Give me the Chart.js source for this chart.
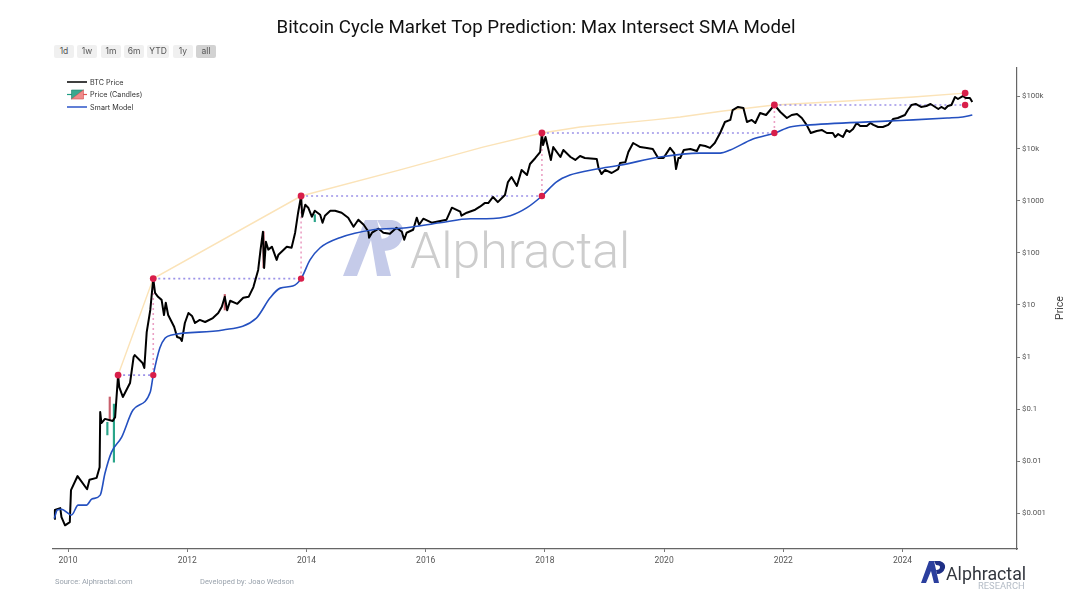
<!DOCTYPE html>
<html>
<head>
<meta charset="utf-8">
<script src="https://cdn.jsdelivr.net/npm/chart.js@4"></script>
<style>
  html, body { margin: 0; padding: 0; background: #fff; }
  #page { position: relative; width: 1072px; height: 603px; overflow: hidden; font-family: Roboto, sans-serif; }
  #page canvas { position: absolute; left: 0; top: 0; }
  .btn { position: absolute; top: 45px; height: 13px; background: #f0f0f0; color: #555; font: 8.5px/13px Inter, sans-serif; text-align: center; border-radius: 2px; }
  .btn.on { background: #d2d2d2; }
  .leg { position: absolute; left: 90px; font: 7.2px/10px Inter, sans-serif; color: #333; }
  .foot { position: absolute; top: 577px; font: 7.5px/10px Roboto, sans-serif; color: #9aa3ad; }
  #mark { position: absolute; left: 410px; top: 221px; font: 300 50px/60px Roboto, sans-serif; color: #cdcdcd; }
  #brand { position: absolute; left: 946px; top: 563px; font: 400 17.8px/22px Roboto, sans-serif; color: #33373f; }
  #brand2 { position: absolute; left: 978px; top: 580px; font: 400 9.4px/12px Roboto, sans-serif; color: #b4bcc6; }
  #ytitle { position: absolute; left: 1040px; top: 301px; width: 40px; text-align: center; font: 400 10.5px/14px Roboto, sans-serif; color: #444; transform: rotate(-90deg); }
</style>
</head>
<body>
<div id="page">
  <svg width="1072" height="603" style="position:absolute;left:0;top:0">
    <path d="M343 276 L357 276 L371 240 L377 276 L391 276 L377 220 L365 220 Z" fill="#c5cbe9"/>
    <path d="M377 220 L392 220 Q405 222 403 236 Q400 250 384 251 L381 239 Q390 238 390 233 Q390 229 382 229 Z" fill="#c5cbe9"/>
    <path d="M921 583 L926 583 L931 571 L934 583 L939 583 L934 561 L929 561 Z" fill="#2b3f9e"/>
    <path d="M934 561 L940 561 Q946 563 945 568 Q943 574 937 574 L936 570 Q940 570 940 567 Q940 565 936 565 Z" fill="#1f2f86"/>
    <line x1="67" y1="82" x2="87" y2="82" stroke="#000" stroke-width="1.5"/>
    <line x1="67" y1="94.5" x2="72" y2="94.5" stroke="#1f9d84" stroke-width="1.2"/>
    <line x1="83" y1="94.5" x2="87" y2="94.5" stroke="#e2504f" stroke-width="1.2"/>
    <path d="M71.5 90 H83.5 L71.5 99 Z" fill="#3aa88f" stroke="#1f7f6b" stroke-width="0.6"/>
    <path d="M83.5 90 V99 H71.5 Z" fill="#f08a8a" stroke="#d05050" stroke-width="0.6"/>
    <line x1="67" y1="107" x2="87" y2="107" stroke="#2d55c8" stroke-width="1.5"/>
  </svg>
  <div id="mark">Alphractal</div>
  <canvas id="chart" width="1072" height="603"></canvas>
  <div class="btn" style="left:54px;width:20px">1d</div>
  <div class="btn" style="left:77px;width:20px">1w</div>
  <div class="btn" style="left:101px;width:20px">1m</div>
  <div class="btn" style="left:124px;width:20px">6m</div>
  <div class="btn" style="left:147px;width:22px">YTD</div>
  <div class="btn" style="left:173px;width:20px">1y</div>
  <div class="btn on" style="left:196px;width:20px">all</div>
  <div class="leg" style="top:77.5px">BTC Price</div>
  <div class="leg" style="top:90px">Price (Candles)</div>
  <div class="leg" style="top:102.5px">Smart Model</div>
  <div class="foot" style="left:55px">Source: Alphractal.com</div>
  <div class="foot" style="left:200px">Developed by: Joao Wedson</div>
  <div id="brand">Alphractal</div>
  <div id="brand2">RESEARCH</div>
  <div id="ytitle">Price</div>
</div>
<script>
const btcYears = [2009.77,2009.78,2009.87,2009.89,2009.95,2010.03,2010.05,2010.16,2010.32,2010.36,2010.48,2010.53,2010.54,2010.56,2010.62,2010.75,2010.79,2010.84,2010.86,2010.92,2011.04,2011.10,2011.12,2011.25,2011.28,2011.32,2011.38,
  2011.43,2011.46,2011.51,2011.57,2011.61,2011.64,2011.68,2011.78,2011.83,2011.88,2011.91,2011.96,2012.02,2012.08,2012.13,2012.21,2012.30,2012.43,2012.52,2012.58,2012.63,2012.67,2012.72,2012.84,2012.94,2013.03,2013.11,2013.19,2013.23,2013.27,2013.29,2013.32,2013.36,2013.42,2013.50,2013.53,2013.67,2013.75,2013.81,2013.86,2013.91,2013.93,
  2013.98,2014.03,2014.09,2014.14,2014.23,2014.27,2014.31,2014.40,2014.48,2014.59,2014.70,2014.79,2014.87,2014.96,2015.04,2015.05,2015.10,2015.21,2015.29,2015.40,2015.51,2015.60,2015.64,2015.68,2015.79,2015.85,2015.89,2015.96,2016.10,2016.35,2016.44,2016.58,2016.60,2016.69,2016.83,2016.91,
  2016.99,2017.05,2017.13,2017.21,2017.33,2017.38,2017.44,2017.53,2017.61,2017.70,2017.75,2017.84,2017.92,2017.95,2017.97,2018.01,2018.10,2018.14,2018.26,2018.31,2018.43,2018.51,2018.59,2018.67,2018.87,2018.90,2018.95,2019.01,2019.12,2019.23,2019.26,2019.35,2019.40,2019.48,2019.60,2019.71,2019.81,2019.90,2019.99,2020.10,2020.17,2020.20,2020.24,
  2020.27,2020.33,2020.44,2020.55,2020.60,2020.69,2020.77,2020.85,2020.94,2021.02,2021.11,2021.15,2021.24,2021.33,2021.39,2021.47,2021.53,2021.61,2021.71,2021.78,2021.85,2021.95,2022.06,2022.14,2022.23,2022.31,2022.39,2022.46,2022.56,2022.65,2022.73,
  2022.83,2022.87,2022.92,2023.00,2023.06,2023.11,2023.17,2023.23,2023.29,2023.40,2023.46,2023.51,2023.59,2023.67,2023.76,2023.79,2023.84,2023.92,2024.04,2024.09,2024.15,2024.22,2024.31,2024.40,2024.47,2024.60,2024.65,2024.71,2024.76,2024.82,2024.88,2024.93,2025.01,2025.06,2025.13,2025.17];
const btcPrices = [0.00078,0.00116,0.00126,0.00085,0.00059,0.00068,0.0028,0.0052,0.0029,0.0044,0.0048,0.0077,0.088,0.054,0.065,0.059,0.07,0.45,0.265,0.171,0.317,1,1.09,0.77,0.615,3,8,
  32,17,14.3,12.5,6.4,11,6.4,3.8,2.43,2.32,2.04,4.5,7,6.15,4.5,5.15,4.7,5.6,7,9.2,14.3,7.9,12,10.5,13.7,14.3,22,47,115,254,51,163,115,131,73,92,131,125,243,588,1230,493,
  838,734,493,643,539,378,515,643,643,588,472,317,432,346,254,195,243,290,243,232,303,254,178,243,277,472,346,451,378,432,734,615,515,588,672,767,
  900,900,1180,940,1290,2280,2850,1920,3900,3120,5060,6600,8600,19900,11700,16700,6050,10700,6900,9400,6900,6050,7200,6600,6300,4240,3250,3900,3400,4050,5300,5500,8600,12800,10700,10300,9800,6600,6600,10300,8200,4050,6600,
  6600,9400,9800,9000,11700,11200,10300,12800,19900,32400,35500,55000,62900,60000,32400,35500,31000,48200,44100,55000,68700,50400,38600,44100,46200,38600,28500,19900,21800,22700,19900,
  19900,16700,19000,16700,22700,20900,23800,31000,27100,27100,31000,28500,26000,26000,28500,31000,37000,38600,44100,55000,68700,71800,62900,65700,71800,57500,62900,57500,65700,68700,97800,89500,102000,93600,93600,78400];

const modelYears = [2009.77,2009.82,2009.89,2010.06,2010.17,2010.31,2010.40,2010.54,2010.62,2010.73,2010.90,2011.09,2011.38,2011.43,2011.54,2011.63,2011.74,2012.60,2013.16,2013.39,2013.56,2013.77,2013.91,2014.06,2014.23,2014.56,2015.12,2015.68,2016.24,2016.75,2017.02,2017.42,2017.70,2017.95,2018.19,2018.42,2018.87,2019.26,2019.93,2020.60,2020.94,2021.11,2021.49,2021.86,2022.11,2022.45,2023.79,2024.18,2024.75,2025.01,2025.17];
const modelPrices = [0.0008,0.00116,0.0012,0.00093,0.00144,0.00144,0.00188,0.00224,0.0059,0.015,0.029,0.096,0.213,0.45,1.49,2.32,2.65,3.3,5.6,13.7,21,23,32,73,125,195,277,303,378,451,451,515,734,1230,2280,3100,4050,4800,6900,8200,8200,9400,15200,19900,26000,28500,34000,35500,38600,40500,44100];

const envelopeYears = [2010.84,2011.43,2013.91,2015.57,2016.96,2017.95,2018.59,2019.82,2020.27,2020.99,2021.85,2023.07,2024.18,2025.05];
const envelopePrices = [0.45,32,1230,3900,10700,19900,26000,35500,40500,52700,68700,82000,97800,116000];

const peakYears = [2010.84,2011.43,2013.91,2017.95,2021.85,2025.05];
const peakTops = [0.45,32,1230,19900,68700,116000];
const peakLows = [null,0.45,32,1230,19900,68700];

const greenYears = [2010.66,2010.77,2014.14];
const greenLows = [0.032,0.0096,395];
const greenHighs = [0.056,0.125,540];
const redYears = [2010.70,2012.63,2013.28];
const redLows = [0.062,8,52];
const redHighs = [0.171,15.9,254];

const yTicks = [0.001,0.01,0.1,1,10,100,1000,10000,100000];
const yTickLabels = ['$0.001','$0.01','$0.1','$1','$10','$100','$1000','$10k','$100k'];
const xTicks = [2010,2012,2014,2016,2018,2020,2022,2024];

const zip = (xs, ys) => xs.map((x, i) => ({ x: x, y: ys[i] }));

// dotted guides between the peaks, broken with gaps
const hGuide = [];
const vGuide = [];
peakYears.forEach((year, i) => {
  if (i === 0) return;
  hGuide.push({ x: peakYears[i - 1], y: peakLows[i] }, { x: year, y: peakLows[i] }, { x: year, y: NaN });
  vGuide.push({ x: year, y: peakLows[i] }, { x: year, y: peakTops[i] }, { x: year, y: NaN });
});

const lineBase = { yAxisID: 'y', pointRadius: 0, pointHoverRadius: 0, fill: false, spanGaps: false };

new Chart(document.getElementById('chart'), {
  type: 'line',
  data: {
    datasets: [
      { ...lineBase, label: 'Peaks', data: zip(peakYears, peakTops), showLine: false, pointRadius: 3.4, pointBackgroundColor: '#d81e4a', pointBorderWidth: 0 },
      { ...lineBase, label: 'Model peaks', data: zip(peakYears.slice(1), peakLows.slice(1)), showLine: false, pointRadius: 3.2, pointBackgroundColor: '#d81e4a', pointBorderWidth: 0 },
      { ...lineBase, label: 'Smart Model', data: zip(modelYears, modelPrices), borderColor: '#2450c0', borderWidth: 1.6, cubicInterpolationMode: 'monotone' },
      { ...lineBase, label: 'BTC Price', data: zip(btcYears, btcPrices), borderColor: '#000', borderWidth: 2, borderJoinStyle: 'round' },
      { type: 'bar', yAxisID: 'y', label: 'Up', data: greenYears.map((x, i) => ({ x: x, y: [greenLows[i], greenHighs[i]] })), backgroundColor: '#2aa58a', barThickness: 1.5, grouped: false },
      { type: 'bar', yAxisID: 'y', label: 'Down', data: redYears.map((x, i) => ({ x: x, y: [redLows[i], redHighs[i]] })), backgroundColor: '#c8606c', barThickness: 1.5, grouped: false },
      { ...lineBase, label: 'H guide', data: hGuide, borderColor: '#9d93e8', borderWidth: 1.6, borderDash: [2, 3] },
      { ...lineBase, label: 'V guide', data: vGuide, borderColor: '#eba0c4', borderWidth: 1.6, borderDash: [2, 3] },
      { ...lineBase, label: 'Envelope', data: zip(envelopeYears, envelopePrices), borderColor: '#fbe3b8', borderWidth: 1.4 }
    ]
  },
  options: {
    responsive: false,
    animation: false,
    layout: { padding: 0 },
    plugins: {
      legend: { display: false },
      tooltip: { enabled: false },
      title: {
        display: true,
        text: 'Bitcoin Cycle Market Top Prediction: Max Intersect SMA Model',
        color: '#111',
        font: { family: 'Roboto', size: 18.7, weight: '400', lineHeight: 1.2 },
        padding: { top: 17, bottom: 28.56 }
      }
    },
    scales: {
      // empty left axis keeps the title centred on the whole page
      yl: {
        axis: 'y',
        position: 'left',
        grid: { display: false },
        border: { display: false },
        ticks: { display: false },
        afterFit: axis => { axis.width = 53; }
      },
      x: {
        type: 'linear',
        offset: false,
        min: 2009.748,
        max: 2025.92,
        grid: { display: true, drawOnChartArea: false, tickLength: 3, tickColor: '#777', offset: false },
        border: { color: '#666', width: 1.2 },
        afterBuildTicks: axis => { axis.ticks = xTicks.map(v => ({ value: v })); },
        afterFit: axis => { axis.height = 54; },
        ticks: {
          color: '#555',
          font: { family: 'Roboto', size: 8.5 },
          maxRotation: 0,
          padding: 4,
          callback: v => String(v)
        }
      },
      y: {
        type: 'logarithmic',
        position: 'right',
        min: 0.000207,
        max: 352000,
        grid: { display: true, drawOnChartArea: false, tickLength: 3, tickColor: '#777' },
        border: { color: '#666', width: 1.2 },
        afterBuildTicks: axis => { axis.ticks = yTicks.map(v => ({ value: v })); },
        afterFit: axis => { axis.width = 55; },
        ticks: {
          color: '#555',
          font: { family: 'Roboto', size: 7.8 },
          padding: 2,
          callback: v => yTickLabels[yTicks.indexOf(v)]
        }
      }
    }
  }
});
</script>
</body>
</html>
